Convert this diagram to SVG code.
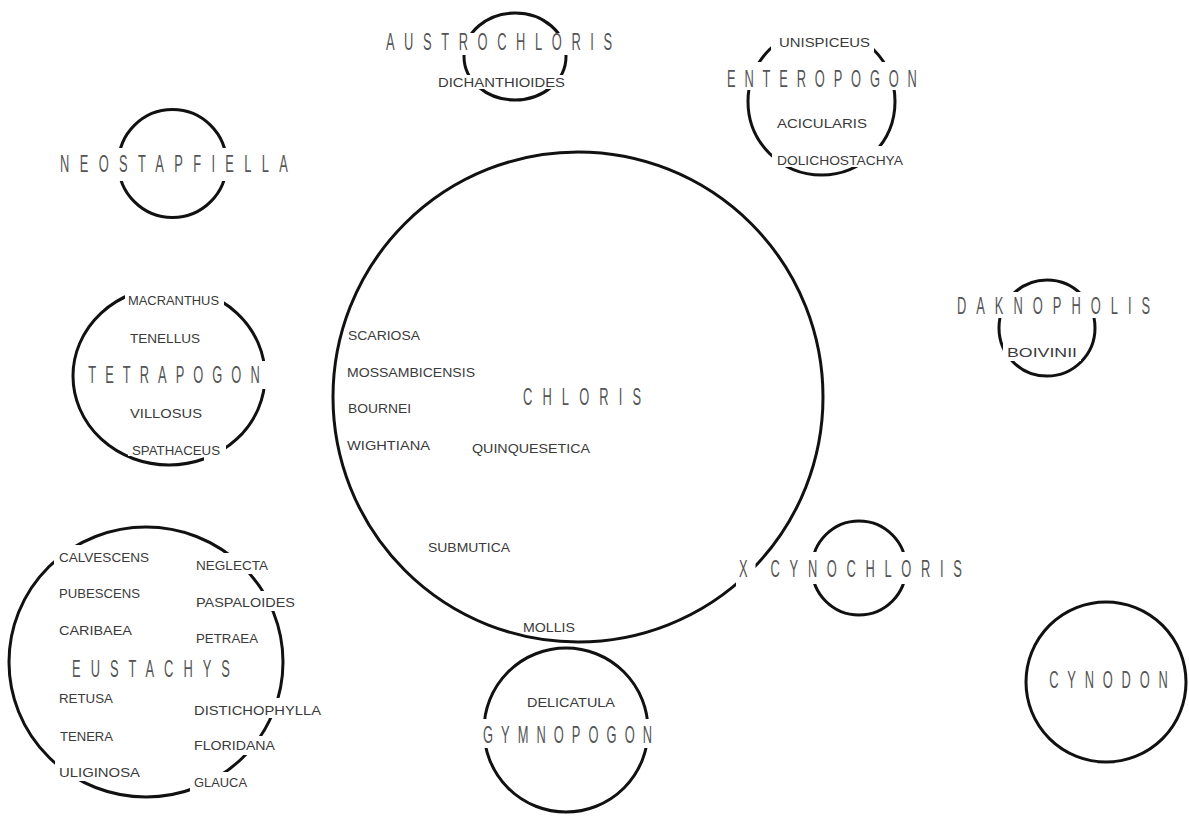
<svg xmlns="http://www.w3.org/2000/svg" width="1189" height="818" viewBox="0 0 1189 818">
<style>
.c{fill:none;stroke:#111;stroke-width:3}
.m{fill:#fff;stroke:none}
.b{font-family:"Liberation Sans",Arial,sans-serif;font-size:23px;fill:#555;text-anchor:middle}
.s{font-family:"Liberation Sans",Arial,sans-serif;font-size:13px;fill:#3a3a3a}
</style>
<rect width="1189" height="818" fill="#fff"/>
<g id="connectors"/>
<g id="chloris">
<circle class="c" cx="578" cy="397" r="245"/>
<text class="b" transform="translate(582,405) scale(0.56,1)" textLength="211" lengthAdjust="spacing">CHLORIS</text>
<text class="s" x="348" y="340" textLength="72" lengthAdjust="spacingAndGlyphs">SCARIOSA</text>
<text class="s" x="347" y="377" textLength="128" lengthAdjust="spacingAndGlyphs">MOSSAMBICENSIS</text>
<text class="s" x="348" y="413" textLength="63" lengthAdjust="spacingAndGlyphs">BOURNEI</text>
<text class="s" x="347" y="450" textLength="83" lengthAdjust="spacingAndGlyphs">WIGHTIANA</text>
<text class="s" x="472" y="453" textLength="118" lengthAdjust="spacingAndGlyphs">QUINQUESETICA</text>
<text class="s" x="428" y="552" textLength="82" lengthAdjust="spacingAndGlyphs">SUBMUTICA</text>
<text class="s" x="523" y="632" textLength="52" lengthAdjust="spacingAndGlyphs">MOLLIS</text>
</g>
<g id="austrochloris">
<ellipse class="c" cx="515" cy="56.5" rx="51" ry="43.5"/>
<rect class="m" x="382" y="33" width="234" height="22"/>
<rect class="m" x="434" y="75" width="135" height="14"/>
<text class="b" transform="translate(499,50) scale(0.56,1)" textLength="404" lengthAdjust="spacing">AUSTROCHLORIS</text>
<text class="s" x="438" y="87" textLength="127" lengthAdjust="spacingAndGlyphs">DICHANTHIOIDES</text>
</g>
<g id="enteropogon">
<circle class="c" cx="821.5" cy="101.5" r="73.5"/>
<rect class="m" x="771" y="24" width="103" height="28"/>
<rect class="m" x="723" y="62" width="198" height="28"/>
<rect class="m" x="772" y="146" width="135" height="21"/>
<text class="s" x="779" y="47" textLength="91" lengthAdjust="spacingAndGlyphs">UNISPICEUS</text>
<text class="b" transform="translate(822,87) scale(0.56,1)" textLength="339" lengthAdjust="spacing">ENTEROPOGON</text>
<text class="s" x="777" y="128" textLength="90" lengthAdjust="spacingAndGlyphs">ACICULARIS</text>
<text class="s" x="777" y="165" textLength="126" lengthAdjust="spacingAndGlyphs">DOLICHOSTACHYA</text>
</g>
<g id="neostapfiella">
<circle class="c" cx="172.5" cy="163.5" r="54"/>
<rect class="m" x="56" y="148" width="236" height="33"/>
<text class="b" transform="translate(174,172) scale(0.56,1)" textLength="407" lengthAdjust="spacing">NEOSTAPFIELLA</text>
</g>
<g id="tetrapogon">
<ellipse class="c" cx="169" cy="376" rx="96" ry="89"/>
<rect class="m" x="125" y="284" width="99" height="25"/>
<rect class="m" x="84" y="361" width="185" height="28"/>
<rect class="m" x="128" y="440" width="98" height="16"/>
<rect class="m" x="204" y="455" width="22" height="6"/>
<text class="s" x="128" y="305" textLength="91" lengthAdjust="spacingAndGlyphs">MACRANTHUS</text>
<text class="s" x="130" y="343" textLength="70" lengthAdjust="spacingAndGlyphs">TENELLUS</text>
<text class="b" transform="translate(174,383) scale(0.56,1)" textLength="306" lengthAdjust="spacing">TETRAPOGON</text>
<text class="s" x="130" y="418" textLength="72" lengthAdjust="spacingAndGlyphs">VILLOSUS</text>
<text class="s" x="132" y="455" textLength="88" lengthAdjust="spacingAndGlyphs">SPATHACEUS</text>
</g>
<g id="eustachys">
<ellipse class="c" cx="146" cy="662" rx="137" ry="135"/>
<rect class="m" x="54" y="545" width="99" height="21"/>
<rect class="m" x="192" y="553" width="80" height="21"/>
<rect class="m" x="192" y="591" width="107" height="20"/>
<rect class="m" x="190" y="698" width="135" height="20"/>
<rect class="m" x="190" y="736" width="89" height="19"/>
<rect class="m" x="190" y="772" width="61" height="20"/>
<rect class="m" x="55" y="761" width="89" height="20"/>
<text class="s" x="59" y="562" textLength="90" lengthAdjust="spacingAndGlyphs">CALVESCENS</text>
<text class="s" x="196" y="570" textLength="72" lengthAdjust="spacingAndGlyphs">NEGLECTA</text>
<text class="s" x="59" y="598" textLength="81" lengthAdjust="spacingAndGlyphs">PUBESCENS</text>
<text class="s" x="196" y="607" textLength="99" lengthAdjust="spacingAndGlyphs">PASPALOIDES</text>
<text class="s" x="59" y="635" textLength="73" lengthAdjust="spacingAndGlyphs">CARIBAEA</text>
<text class="s" x="196" y="643" textLength="62" lengthAdjust="spacingAndGlyphs">PETRAEA</text>
<text class="b" transform="translate(151,677) scale(0.56,1)" textLength="282" lengthAdjust="spacing">EUSTACHYS</text>
<text class="s" x="59" y="703" textLength="54" lengthAdjust="spacingAndGlyphs">RETUSA</text>
<text class="s" x="194" y="715" textLength="127" lengthAdjust="spacingAndGlyphs">DISTICHOPHYLLA</text>
<text class="s" x="60" y="741" textLength="53" lengthAdjust="spacingAndGlyphs">TENERA</text>
<text class="s" x="194" y="750" textLength="81" lengthAdjust="spacingAndGlyphs">FLORIDANA</text>
<text class="s" x="59" y="777" textLength="81" lengthAdjust="spacingAndGlyphs">ULIGINOSA</text>
<text class="s" x="194" y="787" textLength="53" lengthAdjust="spacingAndGlyphs">GLAUCA</text>
</g>
<g id="daknopholis">
<circle class="c" cx="1047" cy="328" r="48"/>
<rect class="m" x="953" y="292" width="201" height="26"/>
<rect class="m" x="1003" y="342" width="78" height="19"/>
<text class="b" transform="translate(1053.5,314) scale(0.56,1)" textLength="345" lengthAdjust="spacing">DAKNOPHOLIS</text>
<text class="s" x="1007" y="357" textLength="70" lengthAdjust="spacingAndGlyphs">BOIVINII</text>
</g>
<g id="cynochloris">
<circle class="c" cx="859" cy="568" r="47"/>
<rect class="m" x="736" y="557" width="19.5" height="30"/>
<rect class="m" x="771" y="552" width="195" height="32"/>
<text class="b" transform="translate(850.5,577) scale(0.56,1)" textLength="398" lengthAdjust="spacing">X CYNOCHLORIS</text>
</g>
<g id="gymnopogon">
<circle class="c" cx="566" cy="730" r="82"/>
<rect class="m" x="480" y="719" width="176" height="29"/>
<text class="s" x="527" y="707" textLength="88" lengthAdjust="spacingAndGlyphs">DELICATULA</text>
<text class="b" transform="translate(567.5,743) scale(0.56,1)" textLength="302" lengthAdjust="spacing">GYMNOPOGON</text>
</g>
<g id="cynodon">
<circle class="c" cx="1106" cy="682" r="80"/>
<text class="b" transform="translate(1108.5,688) scale(0.56,1)" textLength="212" lengthAdjust="spacing">CYNODON</text>
</g>
</svg>
